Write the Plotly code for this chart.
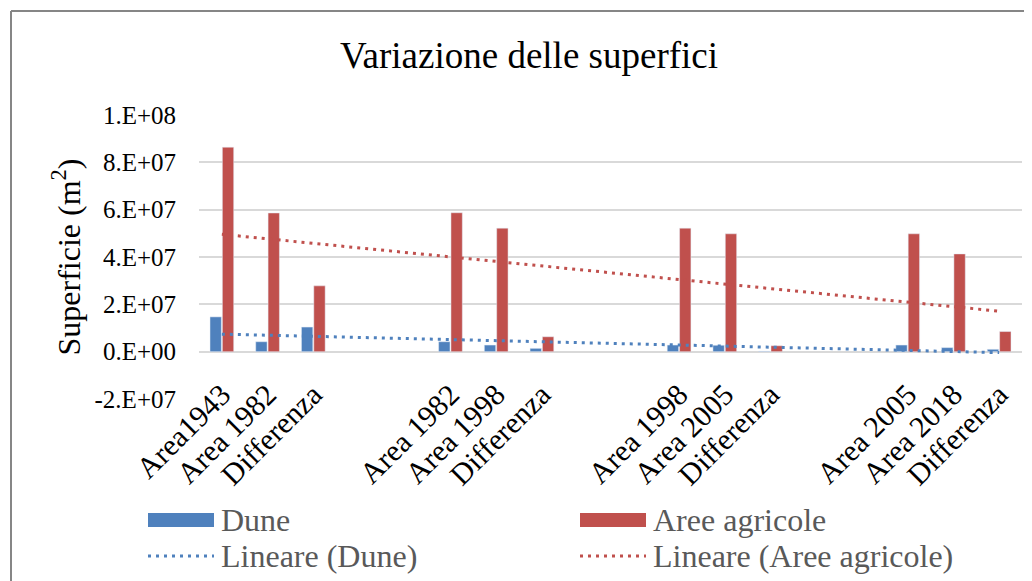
import plotly.graph_objects as go

# categories on the x axis (two empty slots between each comparison)
categories = ["Area1943", "Area 1982", "Differenza", "", "",
              "Area 1982", "Area 1998", "Differenza", "", "",
              "Area 1998", "Area 2005", "Differenza", "", "",
              "Area 2005", "Area 2018", "Differenza"]

dune = [1.47e7, 0.42e7, 1.04e7, None, None,
        0.42e7, 0.28e7, 0.14e7, None, None,
        0.28e7, 0.27e7, 0.02e7, None, None,
        0.28e7, 0.17e7, 0.10e7]

aree_agricole = [8.64e7, 5.86e7, 2.78e7, None, None,
                 5.87e7, 5.22e7, 0.63e7, None, None,
                 5.22e7, 4.98e7, 0.25e7, None, None,
                 4.98e7, 4.13e7, 0.85e7]

# linear trendlines, start / end values
trend_dune = [0.74e7, -0.04e7]
trend_aree = [4.96e7, 1.71e7]

y_ticks = [-2e7, 0, 2e7, 4e7, 6e7, 8e7, 1e8]
y_tick_labels = ["-2.E+07", "0.E+00", "2.E+07", "4.E+07", "6.E+07", "8.E+07", "1.E+08"]

BLUE = "#4F81BD"
RED = "#C0504D"
FONT = "Liberation Serif"

# the page body adds an 8px margin, so the figure is 8px smaller and
# every screen position below is shifted back by OFF
OFF = 8
W, H = 1032 - OFF, 581 - OFF
ML, MR, MT, MB = 199 - OFF, 10, 115 - OFF, 182
PW, PH = W - ML - MR, H - MT - MB


def px(x):
    return (x - OFF - ML) / PW


def py(y):
    return (H - MB - (y - OFF)) / PH


pos = list(range(len(categories)))

fig = go.Figure()
fig.add_trace(go.Bar(x=pos, y=dune, name="Dune", marker_color=BLUE, showlegend=False))
fig.add_trace(go.Bar(x=pos, y=aree_agricole, name="Aree agricole", marker_color=RED, showlegend=False))
fig.add_trace(go.Scatter(x=[pos[0], pos[-1]], y=trend_dune, mode="lines", name="Lineare (Dune)",
                         line=dict(color=BLUE, width=3, dash="3px,5px"), showlegend=False))
fig.add_trace(go.Scatter(x=[pos[0], pos[-1]], y=trend_aree, mode="lines", name="Lineare (Aree agricole)",
                         line=dict(color=RED, width=3, dash="3px,5px"), showlegend=False))

# chart frame (top and left edges visible in the original)
shapes = [
    dict(type="line", xref="paper", yref="paper", x0=px(11), x1=px(1040), y0=py(11), y1=py(11),
         line=dict(color="#868686", width=2)),
    dict(type="line", xref="paper", yref="paper", x0=px(11), x1=px(11), y0=py(11), y1=py(590),
         line=dict(color="#868686", width=2)),
]

# legend drawn by hand so the swatches have Excel proportions
legend_items = [
    ("Dune", BLUE, "bar", 148, 520),
    ("Aree agricole", RED, "bar", 580, 520),
    ("Lineare (Dune)", BLUE, "line", 148, 556),
    ("Lineare (Aree agricole)", RED, "line", 580, 556),
]
annotations = []
for label, col, kind, lx, ly in legend_items:
    if kind == "bar":
        shapes.append(dict(type="rect", xref="paper", yref="paper", x0=px(lx), x1=px(lx + 66),
                           y0=py(ly - 7), y1=py(ly + 7), fillcolor=col, line=dict(width=0)))
    else:
        shapes.append(dict(type="line", xref="paper", yref="paper", x0=px(lx), x1=px(lx + 66),
                           y0=py(ly), y1=py(ly), line=dict(color=col, width=3, dash="3px,5px")))
    annotations.append(dict(text=label, xref="paper", yref="paper", x=px(lx + 71), y=py(ly),
                            xanchor="left", yanchor="middle", showarrow=False,
                            font=dict(family=FONT, size=32, color="#595959")))

fig.update_layout(
    width=W, height=H,
    margin=dict(l=ML, r=MR, t=MT, b=MB),
    paper_bgcolor="white", plot_bgcolor="white",
    font=dict(family=FONT, color="black"),
    title=dict(text="Variazione delle superfici", xref="container", yref="container",
               x=(529 - OFF) / W, y=1 - (55 - OFF) / H, xanchor="center", yanchor="middle",
               font=dict(family=FONT, size=37, color="black")),
    barmode="group", bargap=0.46, bargroupgap=0.08,
    shapes=shapes, annotations=annotations,
    xaxis=dict(range=[-0.5, len(categories) - 0.5], tickvals=pos, ticktext=categories,
               tickangle=-45, showgrid=False, zeroline=False, showline=False, ticks="",
               anchor="free", position=py(352), ticklabelstandoff=18, automargin=False,
               tickfont=dict(family=FONT, size=30, color="black")),
    yaxis=dict(range=[-2e7, 1e8], tickvals=y_ticks, ticktext=y_tick_labels,
               showgrid=True, gridcolor="#D9D9D9", gridwidth=1.5, zeroline=False,
               ticks="", ticklabelstandoff=22, automargin=False,
               tickfont=dict(family=FONT, size=25, color="black"),
               title=dict(text="Superficie (m<sup>2</sup>)", standoff=4,
                          font=dict(family=FONT, size=32, color="black"))),
)

fig.write_html("out.html")
